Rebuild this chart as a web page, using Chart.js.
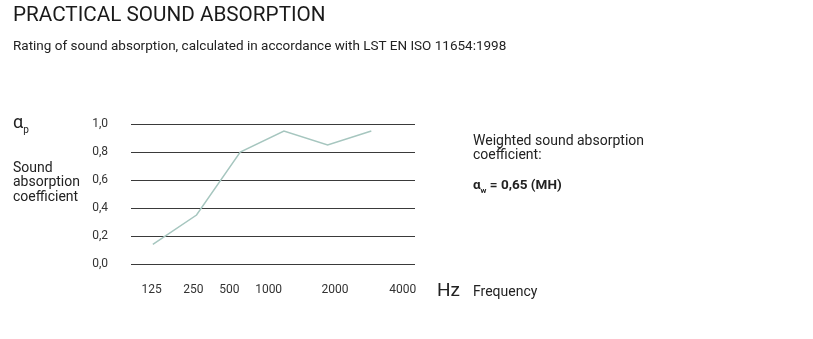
<!DOCTYPE html>
<html>
<head>
<meta charset="utf-8">
<script src="https://cdn.jsdelivr.net/npm/chart.js@4.4.0/dist/chart.umd.min.js"></script>
<style>
    body { margin: 0; background: #fff; }
    #wrap { position: relative; width: 813px; height: 339px; font-family: Roboto, sans-serif; color: #222; }
    #wrap canvas { position: absolute; left: 0; top: 0; }
    .txt { position: absolute; line-height: 1; white-space: nowrap; }
</style>
</head>
<body>
<div id="wrap">
    <canvas id="chart" width="813" height="339"></canvas>
    <div class="txt" style="left:13px; top:4px; font-size:20.7px; color:#1a1a1a;">PRACTICAL SOUND ABSORPTION</div>
    <div class="txt" style="left:13px; top:39px; font-size:13.5px;">Rating of sound absorption, calculated in accordance with LST EN ISO 11654:1998</div>
    <div class="txt" style="left:13px; top:113px; font-size:18px;">α<sub style="font-size:10px;">p</sub></div>
    <div class="txt" style="left:13px; top:160px; font-size:14px; line-height:14.3px;">Sound<br>absorption<br>coefficient</div>
    <div class="txt" style="left:473px; top:133px; font-size:14px; line-height:14px;">Weighted sound absorption<br>coefficient:</div>
    <div class="txt" style="left:473px; top:178px; font-size:13.5px; font-weight:bold;">α<sub style="font-size:8px;">w</sub> = 0,65 (MH)</div>
    <div class="txt" style="left:437px; top:280px; font-size:19px;">Hz</div>
    <div class="txt" style="left:473px; top:284px; font-size:14px;">Frequency</div>
</div>
<script>
// octave band centres and measured practical absorption
const frequencies = ["125", "250", "500", "1000", "2000", "4000"];
const absorption = [0.14, 0.35, 0.8, 0.95, 0.85, 0.95];
const yTicks = [0, 0.2, 0.4, 0.6, 0.8, 1.0];

// where the frequency labels sit on the x scale (the picture spaces them unevenly)
const labelAt = [-0.03, 0.93, 1.75, 2.65, 4.17, 5.72];

const ctx = document.getElementById("chart");
const chart = new Chart(ctx, {
    type: "line",
    data: {
        datasets: [
            {
                label: "αp",
                data: absorption.map((v, i) => ({ x: i, y: v })),
                borderColor: "#a6c6bf",
                borderWidth: 1.5,
                pointRadius: 0,
                tension: 0,
                fill: false,
            },
        ],
    },
    options: {
        responsive: false,
        animation: false,
        layout: { padding: { left: 0, right: 398, top: 124, bottom: 0 } },
        plugins: { legend: { display: false }, tooltip: { enabled: false } },
        scales: {
            x: {
                type: "linear",
                min: -0.5,
                max: 6,
                border: { display: false },
                grid: { display: false, drawTicks: false },
                afterBuildTicks: (scale) => {
                    scale.ticks = labelAt.map((v) => ({ value: v }));
                },
                afterFit: (scale) => { scale.height = 75; },
                ticks: {
                    padding: 19,
                    autoSkip: false,
                    maxRotation: 0,
                    color: "#333",
                    font: { family: "Roboto", size: 12 },
                    callback: (v, i) => frequencies[i],
                },
            },
            y: {
                min: 0,
                max: 1,
                border: { display: false },
                grid: { color: "#3a3a3a", lineWidth: 1, drawTicks: false },
                afterBuildTicks: (scale) => {
                    scale.ticks = yTicks.map((v) => ({ value: v }));
                },
                afterFit: (scale) => { scale.width = 131; },
                ticks: {
                    padding: 23,
                    color: "#333",
                    font: { family: "Roboto", size: 12 },
                    callback: (v) => v.toFixed(1).replace(".", ","),
                },
            },
        },
    },
});
</script>
</body>
</html>
